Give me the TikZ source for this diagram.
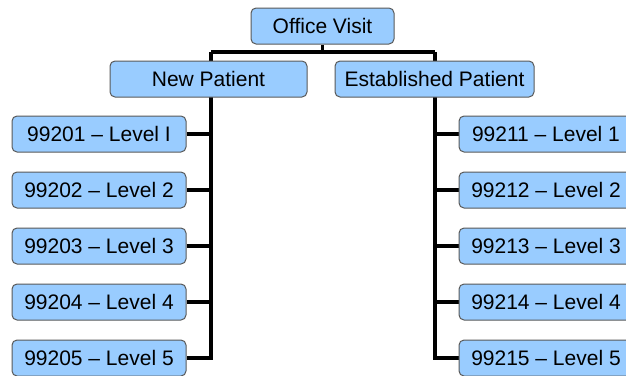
\documentclass[tikz,border=0pt]{standalone}
\usepackage{fontspec}
\setmainfont{Liberation Sans}
\usetikzlibrary{backgrounds}
\begin{document}
\begin{tikzpicture}[x=1pt,y=-1pt,
  box/.style={draw=black!65, line width=1pt, fill=boxblue, rounded corners=5pt,
    minimum height=36pt, inner sep=0pt, font=\fontsize{21}{24}\selectfont},
  code/.style={box, minimum width=174pt},
  conn/.style={draw=black, line width=3.2pt}]
\definecolor{boxblue}{RGB}{153,204,255}
\useasboundingbox (0,0) rectangle (626,375);
\clip (0,0) rectangle (626,375);

% top level and the two categories
\node[box, minimum width=143pt] (ov) at (322.5,26) {Office Visit};
\node[box, minimum width=197pt] (np) at (208.5,79) {New Patient};
\node[box, minimum width=199pt] (ep) at (434.5,79) {Established Patient};

% bus coordinates for the trunk lines
\coordinate (lbus) at (211,52);
\coordinate (rbus) at (435,52);

% code boxes, new patient (left) and established patient (right)
\node[code] (l1) at (99,134) {99201 -- Level I};
\node[code] (l2) at (99,190) {99202 -- Level 2};
\node[code] (l3) at (99,246) {99203 -- Level 3};
\node[code] (l4) at (99,302) {99204 -- Level 4};
\node[code] (l5) at (99,358) {99205 -- Level 5};
\node[code] (r1) at (546,134) {99211 -- Level 1};
\node[code] (r2) at (546,190) {99212 -- Level 2};
\node[code] (r3) at (546,246) {99213 -- Level 3};
\node[code] (r4) at (546,302) {99214 -- Level 4};
\node[code] (r5) at (546,358) {99215 -- Level 5};

% connectors, drawn behind the boxes
\begin{pgfonlayer}{background}
  \draw[conn] (ov.south) -- (ov.south|-lbus);
  \draw[conn] (lbus) -- (rbus);
  \draw[conn] (lbus) |- (l5.east);
  \draw[conn] (rbus) |- (r5.west);
  \foreach \n in {1,...,4} {
    \draw[conn] (l\n.east) -- (lbus|-l\n.east);
    \draw[conn] (r\n.west) -- (rbus|-r\n.west);
  }
\end{pgfonlayer}
\end{tikzpicture}
\end{document}
